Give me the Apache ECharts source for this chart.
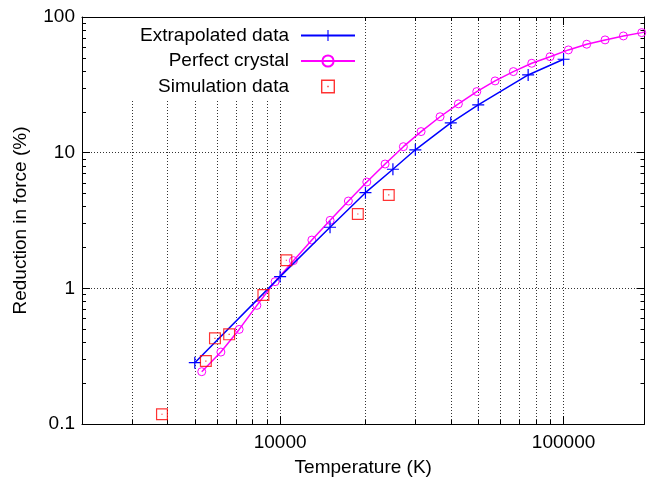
<!DOCTYPE html>
<html>
<head>
<meta charset="utf-8">
<script src="https://cdn.jsdelivr.net/npm/echarts@6/dist/echarts.min.js"></script>
<style>
html, body { margin: 0; padding: 0; background: #fff; }
#chart { width: 654px; height: 481px; }
</style>
</head>
<body>
<div id="chart"></div>
<script>
// values
var extrapolatedT = [5000, 10000, 15000, 20000, 25000, 30000, 40000, 50000, 75000, 100000];
var extrapolatedR = [0.283, 1.22, 2.82, 5.07, 7.55, 10.5, 16.6, 22.5, 37.4, 48.8];

var crystalT = [5290, 6180, 7170, 8280, 9600, 11140, 12940, 15010, 17410, 20220, 23460, 27220,
    31430, 36670, 42550, 49410, 57330, 66510, 77230, 89630, 104000, 120700, 140100, 162600, 188700, 193000];
var crystalR = [0.243, 0.339, 0.498, 0.749, 1.12, 1.60, 2.27, 3.17, 4.40, 6.08, 8.25, 11.07,
    14.3, 18.4, 22.9, 28.2, 33.8, 39.6, 45.6, 51.0, 57.2, 63.0, 67.8, 72.5, 76.7, 77.4];

var simT = [3830, 5470, 5890, 6610, 8730, 10520, 18800, 24170];
var simR = [0.118, 0.291, 0.428, 0.458, 0.893, 1.61, 3.53, 4.88];

var xTicks = [2000, 3000, 4000, 5000, 6000, 7000, 8000, 9000, 10000, 20000, 30000, 40000, 50000,
    60000, 70000, 80000, 90000, 100000];
var xMajor = [10000, 100000];
var yTicks = [0.2, 0.3, 0.4, 0.5, 0.6, 0.7, 0.8, 0.9, 1, 2, 3, 4, 5, 6, 7, 8, 9, 10,
    20, 30, 40, 50, 60, 70, 80, 90];
var yMajor = [1, 10];

var xMin = 2000, xMax = 193000, yMin = 0.1, yMax = 100;
var font = "'Liberation Sans', Arial, sans-serif";

var plusIcon = 'path://M5.4,0H6.6V5.4H12V6.6H6.6V12H5.4V6.6H0V5.4H5.4Z';
var boxIcon = 'path://M0,0L12,0L12,12L0,12Z M1.2,1.2L1.2,10.8L10.8,10.8L10.8,1.2Z M5.4,5.4L6.6,5.4L6.6,6.6L5.4,6.6Z';

function pairs(xs, ys) {
    return xs.map(function (x, i) { return [x, ys[i]]; });
}

var crystalData = pairs(crystalT, crystalR).map(function (p, i) {
    // last value is only the end of the curve at the frame, no marker there
    return i === crystalT.length - 1 ? { value: p, symbol: 'none' } : p;
});

function plain(v) {
    return String(Math.round(v * 1000) / 1000);
}

function xAxisDef(pos, ticks, len, labels, split) {
    return {
        type: 'log', min: xMin, max: xMax, position: pos, gridIndex: 0,
        axisLine: { show: labels, lineStyle: { color: '#000', width: 1 } },
        axisTick: { show: true, inside: true, length: len, customValues: ticks, lineStyle: { color: '#000' } },
        axisLabel: labels ? { show: true, customValues: xMajor, formatter: plain, color: '#000', fontSize: 19, fontFamily: font, margin: 9 } : { show: false },
        splitLine: { show: split, lineStyle: { color: '#333', type: [1, 2], width: 1 } },
        minorTick: { show: false }
    };
}

function yAxisDef(pos, ticks, len, labels, split) {
    return {
        type: 'log', min: yMin, max: yMax, position: pos, gridIndex: 0,
        axisLine: { show: labels, lineStyle: { color: '#000', width: 1 } },
        axisTick: { show: true, inside: true, length: len, customValues: ticks, lineStyle: { color: '#000' } },
        axisLabel: labels ? { show: true, formatter: plain, color: '#000', fontSize: 19, fontFamily: font, margin: 7 } : { show: false },
        splitLine: { show: split, lineStyle: { color: '#333', type: [1, 2], width: 1 } }
    };
}

var xs = [
    xAxisDef('bottom', xTicks, 4, true, true),
    xAxisDef('top', xTicks, 4, false, false),
    xAxisDef('bottom', xMajor, 8, false, false),
    xAxisDef('top', xMajor, 8, false, false)
];
xs[0].name = 'Temperature (K)';
xs[0].nameLocation = 'middle';
xs[0].nameGap = 34;
xs[0].nameTextStyle = { color: '#000', fontSize: 19, fontFamily: font };
xs[1].axisLine.show = true;

var ys = [
    yAxisDef('left', yTicks, 4, true, false),
    yAxisDef('right', yTicks, 4, false, false),
    yAxisDef('left', yMajor, 8, false, true),
    yAxisDef('right', yMajor, 8, false, false)
];
ys[0].name = 'Reduction in force (%)';
ys[0].nameLocation = 'middle';
ys[0].nameGap = 52;
ys[0].nameTextStyle = { color: '#000', fontSize: 19, fontFamily: font };
ys[1].axisLine.show = true;

var chart = echarts.init(document.getElementById('chart'), null, { renderer: 'canvas' });
chart.setOption({
    animation: false,
    backgroundColor: '#fff',
    grid: { left: 82, right: 9.5, top: 17, bottom: 57, outerBoundsMode: 'none', containLabel: false },
    xAxis: xs,
    yAxis: ys,
    legend: {
        orient: 'vertical',
        align: 'right',
        right: 292,
        top: 18,
        padding: [8, 6, 5, 12],
        backgroundColor: '#fff',
        itemWidth: 54,
        itemHeight: 14,
        itemGap: 6.5,
        selectedMode: false,
        textStyle: { color: '#000', fontSize: 19, fontFamily: font, lineHeight: 19, padding: [0, 7, 0, 0] },
        data: [
            { name: 'Extrapolated data' },
            { name: 'Perfect crystal' },
            { name: 'Simulation data', icon: boxIcon }
        ]
    },
    series: [
        {
            name: 'Perfect crystal',
            type: 'line',
            data: crystalData,
            symbol: 'circle',
            symbolSize: 8,
            showAllSymbol: true,
            itemStyle: { color: 'rgba(0,0,0,0)', borderColor: '#ff00ff', borderWidth: 1 },
            lineStyle: { color: '#ff00ff', width: 1.5 },
            z: 2
        },
        {
            name: 'Extrapolated data',
            type: 'line',
            data: pairs(extrapolatedT, extrapolatedR),
            symbol: plusIcon,
            symbolSize: 12,
            showAllSymbol: true,
            itemStyle: { color: '#0000ff' },
            lineStyle: { color: '#0000ff', width: 1.5 },
            z: 3
        },
        {
            name: 'Simulation data',
            type: 'scatter',
            data: pairs(simT, simR),
            symbol: boxIcon,
            symbolSize: 12,
            itemStyle: { color: '#ff0000' },
            z: 4
        }
    ]
});
</script>
</body>
</html>
